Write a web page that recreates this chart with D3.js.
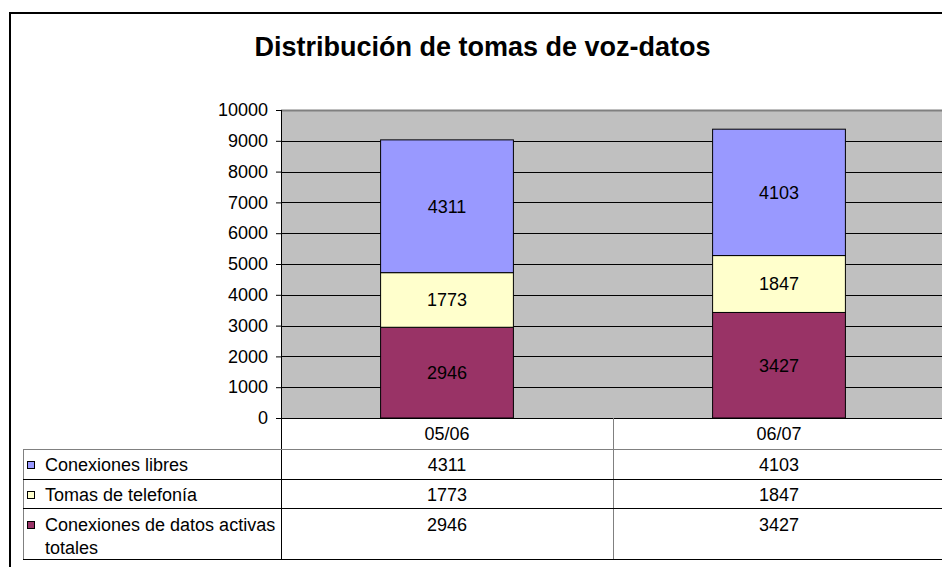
<!DOCTYPE html>
<html>
<head>
<meta charset="utf-8">
<script src="https://cdn.jsdelivr.net/npm/d3@7"></script>
<style>
  html, body { margin: 0; padding: 0; background: #fff; }
  svg { display: block; font-family: Arial, "Liberation Sans", sans-serif; }
</style>
</head>
<body>
<svg id="chart" width="942" height="567"></svg>
<script>
// ---- data ----
const title = "Distribución de tomas de voz-datos";
const categories = ["05/06", "06/07"];
const seriesNames = ["Conexiones libres", "Tomas de telefonía", "Conexiones de datos activas totales"];
const conexionesLibres = [4311, 4103];
const tomasTelefonia = [1773, 1847];
const conexionesDatos = [2946, 3427];
const yTicks = [0, 1000, 2000, 3000, 4000, 5000, 6000, 7000, 8000, 9000, 10000];
const seriesColors = ["#9999FF", "#FFFFCC", "#993366"];

// ---- layout ----
const svg = d3.select("#chart");
const plot = { left: 281, right: 945, top: 110, bottom: 418 };
const tableLeft = 23;
const rowBounds = [418, 449, 479, 508, 559]; // header, 3 series rows

// outer frame
svg.append("rect").attr("x", 10).attr("y", 13).attr("width", 1000).attr("height", 1000)
  .attr("fill", "#fff").attr("stroke", "#000").attr("stroke-width", 2);

// title
svg.append("text").attr("x", 482.5).attr("y", 56).attr("text-anchor", "middle")
  .attr("font-size", 27).attr("font-weight", "bold").attr("fill", "#000").text(title);

// scales
const y = d3.scaleLinear().domain([0, 10000]).range([plot.bottom, plot.top]);
const x = d3.scaleBand().domain(categories).range([plot.left, plot.right])
  .paddingInner(0.6).paddingOuter(0.3);
const xCell = d3.scaleBand().domain(categories).range([plot.left, plot.right]).padding(0);

// plot background
svg.append("rect").attr("x", plot.left).attr("y", plot.top)
  .attr("width", plot.right - plot.left).attr("height", plot.bottom - plot.top)
  .attr("fill", "#C0C0C0");

// gridlines
svg.append("g").selectAll("line").data(yTicks.filter(d => d > 0 && d < 10000)).join("line")
  .attr("x1", plot.left).attr("x2", plot.right)
  .attr("y1", d => Math.round(y(d)) + 0.5).attr("y2", d => Math.round(y(d)) + 0.5)
  .attr("stroke", "#000").attr("stroke-width", 1);
svg.append("line").attr("x1", plot.left).attr("x2", plot.right)
  .attr("y1", Math.round(y(10000)) + 0.5).attr("y2", Math.round(y(10000)) + 0.5)
  .attr("stroke", "#808080").attr("stroke-width", 2);

// stacked bars
const stackData = categories.map((c, i) => ({
  cat: c,
  datos: conexionesDatos[i],
  tel: tomasTelefonia[i],
  libres: conexionesLibres[i]
}));
const keys = ["datos", "tel", "libres"];
const keyColor = { libres: seriesColors[0], tel: seriesColors[1], datos: seriesColors[2] };
const stacked = d3.stack().keys(keys)(stackData);

const layers = svg.append("g").selectAll("g").data(stacked).join("g")
  .attr("fill", d => keyColor[d.key]);
layers.selectAll("rect").data(d => d).join("rect")
  .attr("x", d => x(d.data.cat))
  .attr("width", x.bandwidth())
  .attr("y", d => y(d[1]))
  .attr("height", d => y(d[0]) - y(d[1]))
  .attr("stroke", "#000").attr("stroke-width", 1);
layers.selectAll("text").data(d => d).join("text")
  .attr("x", d => x(d.data.cat) + x.bandwidth() / 2)
  .attr("y", d => (y(d[0]) + y(d[1])) / 2)
  .attr("dy", "0.36em")
  .attr("text-anchor", "middle").attr("font-size", 18).attr("fill", "#000")
  .text(d => d[1] - d[0]);

// y axis
const yAxis = d3.axisLeft(y).tickValues(yTicks).tickSize(5).tickPadding(8).tickFormat(d3.format("d"));
const gy = svg.append("g").attr("transform", `translate(${plot.left},0)`).call(yAxis);
gy.select(".domain").remove();
gy.selectAll(".tick line").attr("stroke", "#000");
gy.selectAll(".tick text").attr("font-size", 18).attr("fill", "#000")
  .attr("font-family", "Arial, 'Liberation Sans', sans-serif");

// axis line (also the table's column separator)
svg.append("line").attr("x1", plot.left + 0.5).attr("x2", plot.left + 0.5)
  .attr("y1", plot.top).attr("y2", rowBounds[4])
  .attr("stroke", "#000").attr("stroke-width", 1);
svg.append("line").attr("x1", plot.left).attr("x2", plot.right)
  .attr("y1", plot.bottom + 0.5).attr("y2", plot.bottom + 0.5)
  .attr("stroke", "#000").attr("stroke-width", 1);

// ---- data table ----
const tbl = svg.append("g");
// category separator
tbl.append("line").attr("x1", xCell("06/07") + 0.5).attr("x2", xCell("06/07") + 0.5)
  .attr("y1", rowBounds[0]).attr("y2", rowBounds[4]).attr("stroke", "#808080");
// table left border
tbl.append("line").attr("x1", tableLeft + 0.5).attr("x2", tableLeft + 0.5)
  .attr("y1", rowBounds[1]).attr("y2", rowBounds[4]).attr("stroke", "#808080");
// horizontal lines
const hColors = ["#808080", "#000", "#000", "#000"];
tbl.selectAll("line.h").data(rowBounds.slice(1)).join("line").attr("class", "h")
  .attr("x1", tableLeft).attr("x2", plot.right)
  .attr("y1", d => d + 0.5).attr("y2", d => d + 0.5)
  .attr("stroke", (d, i) => hColors[i]);

// header
tbl.selectAll("text.cat").data(categories).join("text").attr("class", "cat")
  .attr("x", d => xCell(d) + xCell.bandwidth() / 2).attr("y", 440)
  .attr("text-anchor", "middle").attr("font-size", 18).attr("fill", "#000").text(d => d);

const rowValues = [conexionesLibres, tomasTelefonia, conexionesDatos];
const rowBaselines = [471, 501, 531];
seriesNames.forEach((name, r) => {
  // legend key
  tbl.append("rect").attr("x", 27.5).attr("y", rowBaselines[r] - 9.5).attr("width", 7).attr("height", 7)
    .attr("fill", seriesColors[r]).attr("stroke", "#000").attr("stroke-width", 1);
  // label (wrapped)
  const t = tbl.append("text").attr("x", 45).attr("y", rowBaselines[r])
    .attr("font-size", 18).attr("fill", "#000");
  const words = name.split(" ");
  let line = [];
  let tspan = t.append("tspan").attr("x", 45).attr("y", rowBaselines[r]);
  let lineNo = 0;
  words.forEach(w => {
    line.push(w);
    tspan.text(line.join(" "));
    if (tspan.node().getComputedTextLength() > 232 && line.length > 1) {
      line.pop();
      tspan.text(line.join(" "));
      line = [w];
      lineNo++;
      tspan = t.append("tspan").attr("x", 45).attr("y", rowBaselines[r] + lineNo * 22.5).text(w);
    }
  });
  // values
  tbl.selectAll(null).data(rowValues[r]).join("text")
    .attr("x", (d, i) => xCell(categories[i]) + xCell.bandwidth() / 2)
    .attr("y", rowBaselines[r])
    .attr("text-anchor", "middle").attr("font-size", 18).attr("fill", "#000")
    .text(d => d);
});
</script>
</body>
</html>
